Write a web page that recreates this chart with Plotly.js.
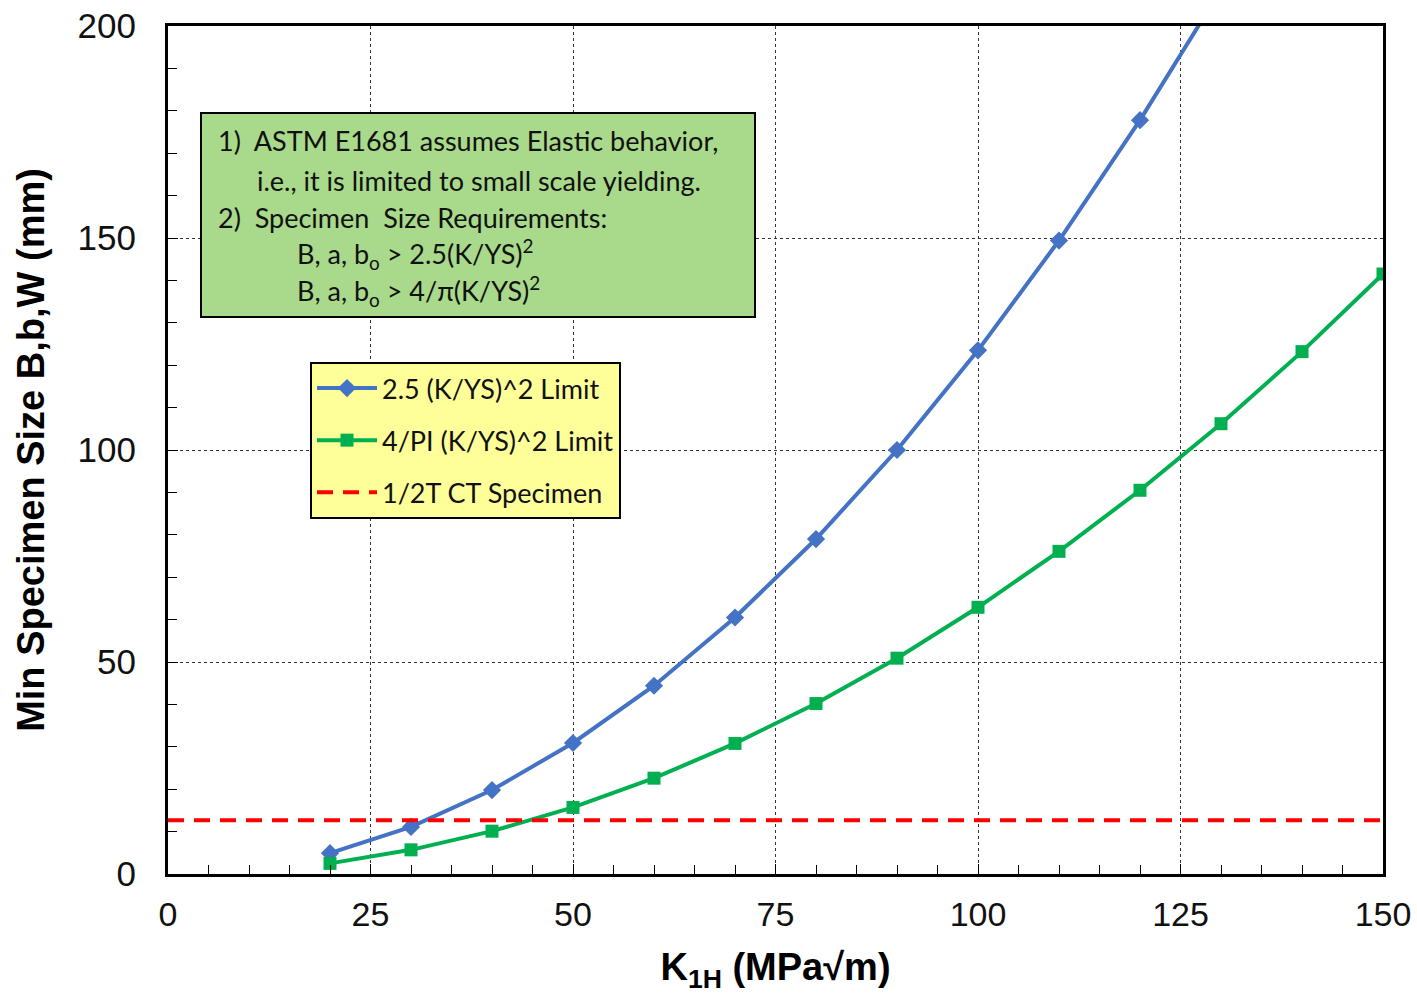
<!DOCTYPE html>
<html>
<head>
<meta charset="utf-8">
<script src="https://cdn.plot.ly/plotly-3.0.1.min.js"></script>
<style>html,body{margin:0;padding:0;background:#fff;}#chart{width:1417px;height:994px;}</style>
</head>
<body>
<div id="chart"></div>
<script>
// K values (MPa√m) and minimum specimen sizes (mm)
const kBlue = [20, 30, 40, 50, 60, 70, 80, 90, 100, 110, 120, 130];
const sizeBlue = [4.9, 11.1, 19.8, 30.9, 44.4, 60.5, 79.0, 100.0, 123.5, 149.4, 177.8, 208.6];
const kGreen = [20, 30, 40, 50, 60, 70, 80, 90, 100, 110, 120, 130, 140, 150];
const sizeGreen = [2.5, 5.7, 10.1, 15.7, 22.6, 30.8, 40.2, 50.9, 62.9, 76.1, 90.5, 106.2, 123.2, 141.5];
const kCT = [0, 150];
const sizeCT = [12.7, 12.7];
const seriesNames = ["2.5 (K/YS)^2 Limit", "4/PI (K/YS)^2 Limit", "1/2T CT Specimen"];
const xTicks = [0, 25, 50, 75, 100, 125, 150];
const yTicks = [0, 50, 100, 150, 200];
const noteLines = [
  "1)  ASTM E1681 assumes Elastic behavior,",
  "i.e., it is limited to small scale yielding.",
  "2)  Specimen  Size Requirements:",
  "B, a, b<sub>o</sub> > 2.5(K/YS)<sup>2</sup>",
  "B, a, b<sub>o</sub> > 4/π(K/YS)<sup>2</sup>"
];

const W = 1417, H = 994;
const L = 168, R = 34, T = 26, B = 120;
const pw = W - L - R, ph = H - T - B;
const px = v => (v - L) / pw;
const py = v => (H - B - v) / ph;

const traces = [
  {x: kBlue, y: sizeBlue, name: seriesNames[0], type: 'scatter', mode: 'lines+markers',
   legendgroup: 'a',
   line: {color: '#4472C4', width: 4}, marker: {symbol: 'diamond', size: 14, color: '#4472C4'}},
  {x: kGreen, y: sizeGreen, name: seriesNames[1], type: 'scatter', mode: 'lines+markers',
   legendgroup: 'b',
   line: {color: '#00B050', width: 4}, marker: {symbol: 'square', size: 13, color: '#00B050'}},
  {x: kCT, y: sizeCT, name: seriesNames[2], type: 'scatter', mode: 'lines',
   legendgroup: 'c',
   line: {color: '#FF0000', width: 4, dash: '16px,10px'}}
];

const noteFont = {family: 'Lato, "Open Sans", sans-serif', size: 27, color: '#111'};
const noteX = [216, 255, 216, 295, 295];
const noteY = [141, 180, 217, 254, 291];
const annotations = noteLines.map((t, i) => ({
  xref: 'paper', yref: 'paper', x: px(noteX[i]), y: py(noteY[i]),
  xanchor: 'left', yanchor: 'middle', text: t, showarrow: false, font: noteFont
}));

const shapes = [
  {type: 'rect', xref: 'paper', yref: 'paper', x0: px(201), x1: px(755), y0: py(317), y1: py(113),
   fillcolor: '#A9D98B', line: {color: '#000', width: 2}, layer: 'above'}
];

const layout = {
  width: W, height: H,
  margin: {l: L, r: R, t: T, b: B},
  paper_bgcolor: '#fff', plot_bgcolor: '#fff',
  showlegend: true,
  legend: {
    x: px(310), y: py(362), xanchor: 'left', yanchor: 'top',
    bgcolor: '#FFFF99', bordercolor: '#000', borderwidth: 2,
    font: {family: 'Lato, "Open Sans", sans-serif', size: 27, color: '#111'},
    tracegroupgap: 14, itemwidth: 60
  },
  xaxis: {
    range: [0, 150], tickvals: xTicks, ticktext: xTicks.map(String),
    ticks: 'inside', ticklen: 10, tickwidth: 1, tickcolor: '#000',
    minor: {dtick: 5, ticks: 'inside', ticklen: 9, tickwidth: 1, tickcolor: '#000', showgrid: false},
    showline: true, linecolor: '#000', linewidth: 3, mirror: true,
    showgrid: true, gridcolor: '#333', gridwidth: 1, griddash: 'dot',
    zeroline: false,
    tickfont: {family: '"Liberation Sans", Arial, sans-serif', size: 34, color: '#111'},
    ticklabelstandoff: 8,
    title: {text: 'K<sub>1H</sub> (MPa√m)', standoff: 24,
            font: {family: '"Liberation Sans", Arial, sans-serif', size: 38, color: '#000', weight: 700}},
    automargin: false
  },
  yaxis: {
    range: [0, 200], tickvals: yTicks, ticktext: yTicks.map(String),
    ticks: 'inside', ticklen: 10, tickwidth: 1, tickcolor: '#000',
    minor: {dtick: 10, ticks: 'inside', ticklen: 9, tickwidth: 1, tickcolor: '#000', showgrid: false},
    showline: true, linecolor: '#000', linewidth: 3, mirror: true,
    showgrid: true, gridcolor: '#333', gridwidth: 1, griddash: 'dot',
    zeroline: false,
    tickfont: {family: '"Liberation Sans", Arial, sans-serif', size: 35, color: '#111'},
    ticklabelstandoff: 22,
    title: {text: 'Min Specimen Size B,b,W (mm)', standoff: 22,
            font: {family: '"Liberation Sans", Arial, sans-serif', size: 38, color: '#000', weight: 700}},
    automargin: false
  },
  annotations: annotations,
  shapes: shapes
};

Plotly.newPlot('chart', traces, layout, {displayModeBar: false, staticPlot: true});
</script>
</body>
</html>
